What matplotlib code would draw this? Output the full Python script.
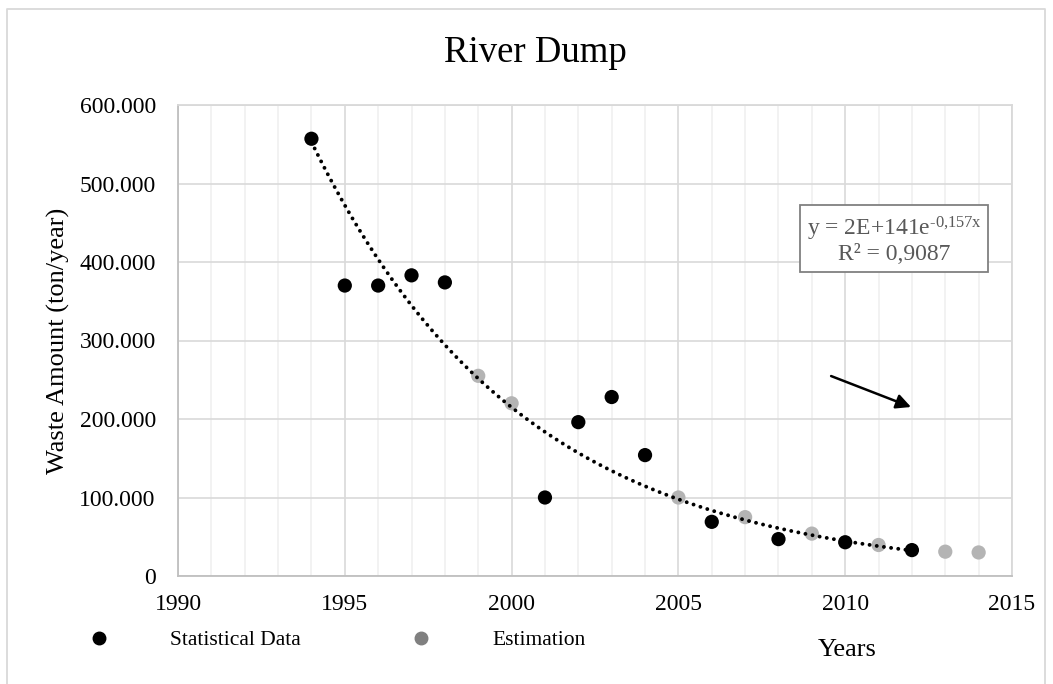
import numpy as np
import matplotlib
matplotlib.use("Agg")
import matplotlib.pyplot as plt
from matplotlib.lines import Line2D
from matplotlib.ticker import FuncFormatter, MultipleLocator

plt.rcParams['font.family'] = ['Liberation Serif', 'DejaVu Serif']
plt.rcParams['mathtext.fontset'] = 'custom'
plt.rcParams['mathtext.rm'] = 'Liberation Serif'
plt.rcParams['mathtext.it'] = 'Liberation Serif'

# Recorded waste amounts (ton/year)
stat_years = [1994, 1995, 1996, 1997, 1998, 2001, 2002, 2003, 2004, 2006, 2008, 2010, 2012]
stat_values = [557000, 370000, 370000, 383000, 374000, 100000, 196000, 228000,
               154000, 69000, 47000, 43000, 33000]

# Estimated amounts for the missing years
est_years = [1999, 2000, 2005, 2007, 2009, 2011, 2013, 2014]
est_values = [255000, 220000, 100000, 75000, 54000, 39500, 31000, 30000]

equation_text = "y = 2E+141e$^{\\text{-0,157x}}$\nR² = 0,9087"

W, H = 1053, 684
fig = plt.figure(figsize=(W / 100, H / 100), dpi=100)
ax = fig.add_axes([178 / W, 1 - 576 / H, (1012 - 178) / W, (576 - 105) / H])

# Exponential trend fitted to the recorded data (least squares on log values)
b, a = np.polyfit(stat_years, np.log(stat_values), 1)
tx = np.linspace(min(stat_years), max(stat_years), 300)
ax.plot(tx, np.exp(a + b * tx), color='black', lw=2.8,
        linestyle=(0, (0.01, 1.85)), dash_capstyle='round', zorder=4)

ax.scatter(est_years, est_values, s=105, color='#b4b4b4', edgecolors='none', zorder=3)
ax.scatter(stat_years, stat_values, s=105, color='black', edgecolors='none', zorder=5)

ax.set_xlim(1990, 2015)
ax.set_ylim(0, 600000)
ax.xaxis.set_major_locator(MultipleLocator(5))
ax.xaxis.set_minor_locator(MultipleLocator(1))
ax.yaxis.set_major_locator(MultipleLocator(100000))
ax.yaxis.set_major_formatter(FuncFormatter(
    lambda v, p: '0' if v == 0 else f'{v:,.0f}'.replace(',', '.')))

ax.grid(True, which='minor', axis='x', color='#f0f0f0', lw=1.2, zorder=0)
ax.grid(True, which='major', axis='x', color='#d9d9d9', lw=1.2, zorder=0)
ax.grid(True, which='major', axis='y', color='#d9d9d9', lw=1.2, zorder=0)
ax.set_axisbelow(True)
for name, sp in ax.spines.items():
    sp.set_color('#bfbfbf' if name in ('left', 'bottom') else '#d9d9d9')
    sp.set_linewidth(1.3)

ax.tick_params(axis='both', which='both', length=0, labelsize=17, colors='black')
ax.tick_params(axis='x', pad=13)
ax.tick_params(axis='y', pad=16)

ax.annotate('', xy=(2012.05, 214000), xytext=(2009.5, 256000),
            arrowprops=dict(arrowstyle='-|>', color='black', lw=1.8, mutation_scale=22))

ax.text(2011.46, 428000, equation_text, ha='center', va='center', fontsize=17,
        color='#595959', multialignment='center', linespacing=1.05,
        bbox=dict(boxstyle='square,pad=0.3', fc='white', ec='#808080', lw=1.3), zorder=6)

fig.text(535 / W, 1 - 53 / H, 'River Dump', ha='center', va='center', fontsize=26.5)
fig.text(58 / W, 1 - 341 / H, 'Waste Amount (ton/year)', ha='center', va='center',
         rotation=90, fontsize=19)
fig.text(847 / W, 1 - 650 / H, 'Years', ha='center', va='center', fontsize=19)

handles = [Line2D([], [], ls='none', marker='o', ms=9, color='black'),
           Line2D([], [], ls='none', marker='o', ms=9, color='#808080')]
fig.legend(handles, ['Statistical Data', 'Estimation'], ncol=2, loc='center left',
           bbox_to_anchor=(88 / W, 1 - 640 / H), frameon=False, fontsize=15.5,
           borderpad=0, borderaxespad=0, handlelength=1.0, handletextpad=2.8,
           columnspacing=5.1)

# Chart area border
fig.add_artist(Line2D([7 / W, 7 / W, 1045 / W, 1045 / W],
                      [0, 1 - 9 / H, 1 - 9 / H, 0], color='#d9d9d9', lw=1.3))

fig.savefig('out.png', dpi=100, facecolor='white')
